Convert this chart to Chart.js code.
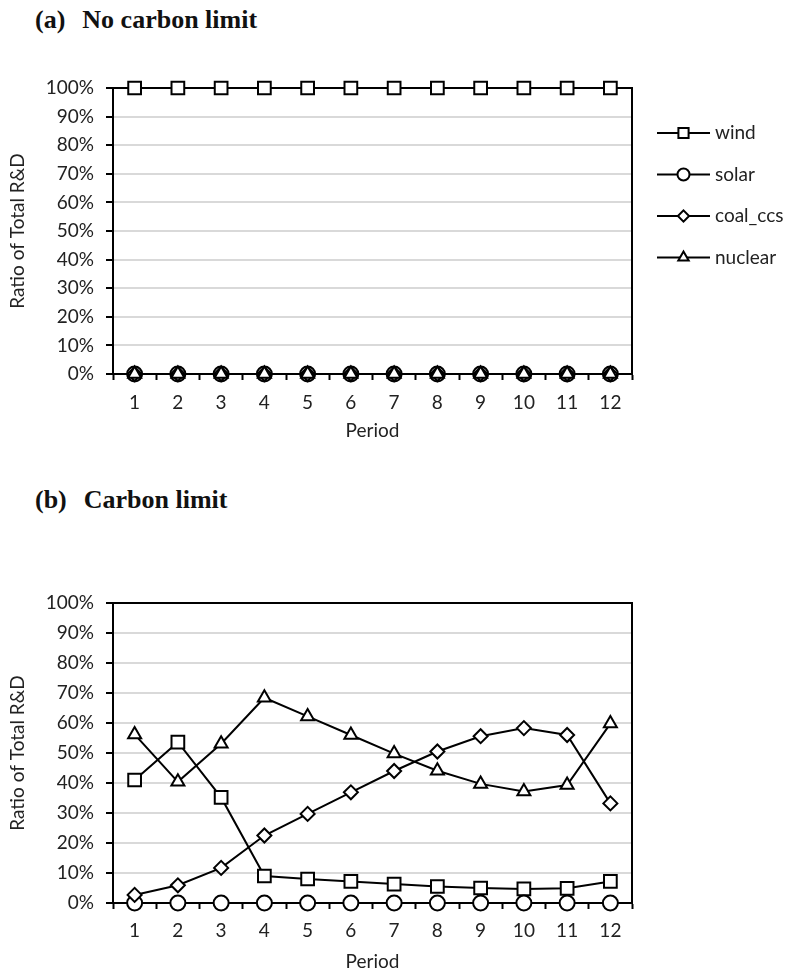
<!DOCTYPE html>
<html>
<head>
<meta charset="utf-8">
<script src="https://cdn.jsdelivr.net/npm/chart.js@4.4.1/dist/chart.umd.min.js"></script>
<style>
body { margin: 0; background: #fff; width: 787px; height: 973px; position: relative; overflow: hidden; }
.title { position: absolute; left: 35px; font-family: 'Liberation Serif', 'Times New Roman', serif; font-weight: bold; font-size: 26px; line-height: 30px; color: #111; white-space: nowrap; }
.title span { margin-right: 17px; }
#wrapA { position: absolute; left: 0; top: 0; width: 787px; height: 450px; }
#wrapB { position: absolute; left: 0; top: 450px; width: 787px; height: 523px; }
</style>
</head>
<body>
<div class="title" style="top:5px"><span>(a)</span>No carbon limit</div>
<div id="wrapA"><canvas id="chartA"></canvas></div>
<div class="title" style="top:485px"><span>(b)</span>Carbon limit</div>
<div id="wrapB"><canvas id="chartB"></canvas></div>
<script>
// data (% of total R&D per period)
const periods = ['1', '2', '3', '4', '5', '6', '7', '8', '9', '10', '11', '12'];
const seriesNames = ['wind', 'solar', 'coal_ccs', 'nuclear'];

// (a) no carbon limit
const windA = [100, 100, 100, 100, 100, 100, 100, 100, 100, 100, 100, 100];
const solarA = [0, 0, 0, 0, 0, 0, 0, 0, 0, 0, 0, 0];
const coalA = [0, 0, 0, 0, 0, 0, 0, 0, 0, 0, 0, 0];
const nuclearA = [0, 0, 0, 0, 0, 0, 0, 0, 0, 0, 0, 0];

// (b) carbon limit
const windB = [41, 53.6, 35.2, 9, 8, 7.2, 6.3, 5.5, 5, 4.7, 4.9, 7.2];
const solarB = [0, 0, 0, 0, 0, 0, 0, 0, 0, 0, 0, 0];
const coalB = [2.7, 5.9, 11.7, 22.5, 29.7, 36.9, 44, 50.5, 55.6, 58.3, 56, 33.2];
const nuclearB = [56.2, 40.4, 53.1, 68.4, 62.2, 56, 49.8, 44.1, 39.7, 37.2, 39.3, 59.8];

const FONT = 'Lato';
const FSIZE = 19;
const TXT = '#222';

const markers = {
    wind: { pointStyle: 'rect', pointRadius: 9 },
    solar: { pointStyle: 'circle', pointRadius: 7.5 },
    coal_ccs: { pointStyle: 'rectRot', pointRadius: 7 },
    nuclear: { pointStyle: 'triangle', pointRadius: 7.5 }
};

function makeDatasets(values) {
    return values.map((v, i) => ({
        label: seriesNames[i],
        data: v,
        order: values.length - i, // later series on top, as in Excel
        borderColor: '#000',
        borderWidth: 2,
        pointBackgroundColor: '#fff',
        pointBorderColor: '#000',
        pointBorderWidth: 2,
        pointStyle: markers[seriesNames[i]].pointStyle,
        pointRadius: markers[seriesNames[i]].pointRadius,
        tension: 0,
        clip: false
    }));
}

// black box round the plot area
const frame = {
    id: 'frame',
    beforeDatasetsDraw(chart) {
        const { ctx, chartArea: a } = chart;
        ctx.save();
        ctx.strokeStyle = '#000';
        ctx.lineWidth = 2;
        ctx.strokeRect(a.left, a.top, a.right - a.left, a.bottom - a.top);
        ctx.restore();
    }
};

// legend with line + marker, like the Excel one
const lineLegend = {
    id: 'lineLegend',
    afterDraw(chart, args, opts) {
        if (!opts.show) return;
        const ctx = chart.ctx;
        const x0 = chart.chartArea.right + opts.left;
        chart.data.datasets.forEach((ds, i) => {
            const y = chart.chartArea.top + opts.top + i * opts.gap;
            ctx.save();
            ctx.strokeStyle = '#000';
            ctx.lineWidth = 2;
            ctx.beginPath();
            ctx.moveTo(x0, y);
            ctx.lineTo(x0 + opts.length, y);
            ctx.stroke();
            ctx.fillStyle = '#fff';
            Chart.helpers.drawPoint(ctx, {
                pointStyle: ds.pointStyle,
                radius: ds.pointRadius * 0.8,
                borderWidth: 2,
                rotation: 0
            }, x0 + opts.length / 2, y);
            ctx.fillStyle = TXT;
            ctx.font = FSIZE + 'px ' + FONT;
            ctx.textBaseline = 'middle';
            ctx.textAlign = 'left';
            ctx.fillText(ds.label, x0 + opts.length + 5, y);
            ctx.restore();
        });
    }
};

function makeOptions(pad, tickPad, titlePad, showLegend) {
    return {
        responsive: true,
        maintainAspectRatio: false,
        animation: false,
        layout: { padding: pad },
        plugins: {
            legend: { display: false },
            tooltip: { enabled: false },
            lineLegend: { show: showLegend, left: 25, top: 45, gap: 41.5, length: 53 }
        },
        scales: {
            x: {
                offset: true,
                afterFit(scale) { scale.height = 70; },
                grid: {
                    offset: true,
                    drawOnChartArea: false,
                    drawTicks: true,
                    tickLength: 6,
                    tickWidth: 2,
                    tickColor: '#000',
                    color: '#000'
                },
                border: { display: true, color: '#000', width: 2 },
                ticks: { color: TXT, font: { family: FONT, size: FSIZE }, padding: tickPad, maxRotation: 0 },
                title: {
                    display: true,
                    text: 'Period',
                    color: TXT,
                    font: { family: FONT, size: FSIZE },
                    padding: { top: 0, bottom: titlePad }
                }
            },
            y: {
                min: 0,
                max: 100,
                afterFit(scale) { scale.width = 113; },
                grid: {
                    color: '#d9d9d9',
                    lineWidth: 2,
                    tickLength: 7,
                    tickWidth: 2,
                    tickColor: '#000'
                },
                border: { display: true, color: '#000', width: 2 },
                ticks: {
                    stepSize: 10,
                    padding: 12,
                    color: TXT,
                    font: { family: FONT, size: FSIZE },
                    callback: v => v + '%'
                },
                title: {
                    display: true,
                    text: 'Ratio of Total R&D',
                    color: TXT,
                    font: { family: FONT, size: FSIZE },
                    padding: { top: 6, bottom: 0 }
                }
            }
        }
    };
}

new Chart(document.getElementById('chartA'), {
    type: 'line',
    data: { labels: periods, datasets: makeDatasets([windA, solarA, coalA, nuclearA]) },
    options: makeOptions({ left: 0, top: 88, right: 155, bottom: 6 }, 11, 2, true),
    plugins: [frame, lineLegend]
});

new Chart(document.getElementById('chartB'), {
    type: 'line',
    data: { labels: periods, datasets: makeDatasets([windB, solarB, coalB, nuclearB]) },
    options: makeOptions({ left: 0, top: 153, right: 155, bottom: 0 }, 10, 0, false),
    plugins: [frame, lineLegend]
});
</script>
</body>
</html>
